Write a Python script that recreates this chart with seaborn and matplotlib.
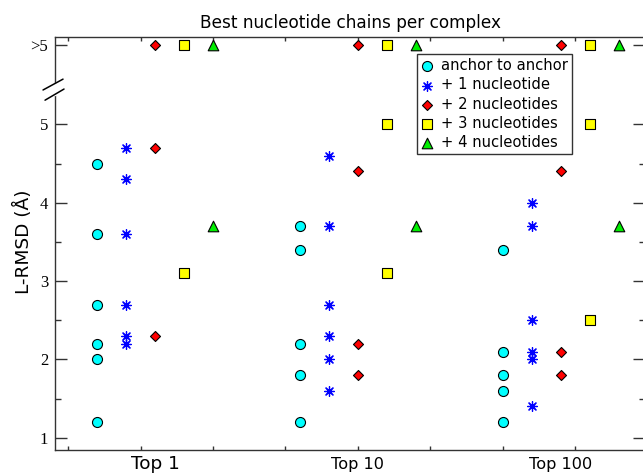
import numpy as np
import pandas as pd
import matplotlib
matplotlib.use("Agg")
import matplotlib.pyplot as plt
import seaborn as sns

# ---------------- data ----------------
GT5 = np.inf  # value reported as ">5"
groups = ["Top 1", "Top 10", "Top 100"]
series_labels = ["anchor to anchor", "+ 1 nucleotide", "+ 2 nucleotides",
                 "+ 3 nucleotides", "+ 4 nucleotides"]

anchor = [[4.5, 3.6, 2.7, 2.2, 2.0, 1.2],
          [3.7, 3.4, 2.2, 1.8, 1.2],
          [3.4, 2.1, 1.8, 1.6, 1.2]]
plus1 = [[4.7, 4.3, 3.6, 2.7, 2.3, 2.2],
         [4.6, 3.7, 2.7, 2.3, 2.0, 1.6],
         [4.0, 3.7, 2.5, 2.1, 2.0, 1.4]]
plus2 = [[GT5, 4.7, 2.3],
         [GT5, 4.4, 2.2, 1.8],
         [GT5, 4.4, 2.1, 1.8]]
plus3 = [[GT5, 3.1],
         [GT5, 5.0, 3.1],
         [GT5, 5.0, 2.5]]
plus4 = [[GT5, 3.7],
         [GT5, 3.7],
         [GT5, 3.7]]

ytick_vals = [1, 2, 3, 4, 5]
ytick_labels = ["1", "2", "3", "4", "5"]
over_label = ">5"

# ---------------- styling / layout ----------------
series_data = [anchor, plus1, plus2, plus3, plus4]
colors = ["#00FFFF", "#0000FF", "#FF0000", "#FFFF00", "#00EE00"]
markers = ["o", (8, 2, 0), "D", "s", "^"]
sizes = [52, 50, 26, 46, 58]
OVER_POS = 6.015          # where ">5" is drawn
GROUP_STEP = 7            # x spacing between groups
SERIES_STEP = 1           # x spacing between series within a group

sns.set_style("white")
plt.rcParams["font.family"] = ["DejaVu Sans"]
plt.rcParams["text.color"] = "black"
plt.rcParams["axes.labelcolor"] = "black"
plt.rcParams["xtick.color"] = "black"
plt.rcParams["ytick.color"] = "black"

rows = []
for si, (lab, data) in enumerate(zip(series_labels, series_data)):
    for gi, vals in enumerate(data):
        for v in vals:
            rows.append({"series": lab,
                         "x": gi * GROUP_STEP + si * SERIES_STEP,
                         "y": OVER_POS if np.isinf(v) else v})
df = pd.DataFrame(rows)

fig = plt.figure(figsize=(6.43, 4.73), dpi=100)
W, H = 643, 473
ax = fig.add_axes([55 / W, 23 / H, 590 / W, 413 / H])

for si, lab in enumerate(series_labels):
    sub = df[df["series"] == lab]
    if isinstance(markers[si], tuple):
        sns.scatterplot(data=sub, x="x", y="y", ax=ax, marker=markers[si],
                        s=sizes[si], color=colors[si], linewidth=0.9,
                        label=lab, zorder=3)
    else:
        sns.scatterplot(data=sub, x="x", y="y", ax=ax, marker=markers[si],
                        s=sizes[si], color=colors[si], edgecolor="black",
                        linewidth=0.8, label=lab, zorder=3)

ax.set_xlim(-1.45, 18.9)
ax.set_ylim(0.843, 6.117)

# y ticks
ax.set_yticks(ytick_vals + [OVER_POS])
ax.set_yticklabels(ytick_labels + [over_label])
ax.set_yticks([1.5, 2.5, 3.5, 4.5], minor=True)
ax.tick_params(axis="y", which="major", direction="in", length=8.6, width=1,
               right=True, left=True, labelsize=12, pad=5, color="#333333",
               labelcolor="black")
ax.tick_params(axis="y", which="minor", direction="in", length=4.3, width=1,
               right=True, left=True, color="#333333")
for lbl in ax.get_yticklabels():
    lbl.set_fontfamily("Liberation Serif")

# x ticks (unlabelled), group labels as text
ax.set_xticks(np.arange(-1, 19, 2.5))
ax.set_xticklabels([])
ax.tick_params(axis="x", which="major", direction="in", length=3, width=1,
               top=True, bottom=True, color="#333333")
label_sizes = [13.3, 11.6, 11.6]
for gi, g in enumerate(groups):
    ax.text(gi * GROUP_STEP + 2 * SERIES_STEP, -0.046, g,
            transform=ax.get_xaxis_transform(), ha="center", va="baseline",
            fontsize=label_sizes[gi], color="black")

ax.set_xlabel("")
ax.set_ylabel("L-RMSD (Å)", fontsize=13.3, color="black")
ax.yaxis.set_label_coords(-0.037, 0.504)

for sp in ax.spines.values():
    sp.set_color("#333333")
    sp.set_linewidth(1.0)

# axis break marks on left spine
ax.plot([0, 0], [0.861, 0.887], transform=ax.transAxes, color="white",
        lw=2.5, clip_on=False, zorder=5)
ax.plot([-0.0203, 0.0136], [0.8717, 0.898], transform=ax.transAxes,
        color="black", lw=1.1, clip_on=False, zorder=6)
ax.plot([-0.0169, 0.0153], [0.847, 0.874], transform=ax.transAxes,
        color="black", lw=1.1, clip_on=False, zorder=6)

leg = ax.legend(loc="upper left", bbox_to_anchor=(0.6136, 0.959),
                borderaxespad=0, frameon=True, fancybox=False,
                edgecolor="#333333", framealpha=1, fontsize=10.6,
                handlelength=0.8, handletextpad=0.5, labelspacing=0.28,
                borderpad=0.3)
leg.get_frame().set_linewidth(1.0)
for t in leg.get_texts():
    t.set_color("black")

fig.text(350 / W, 1 - 28 / H, "Best nucleotide chains per complex",
         ha="center", va="baseline", fontsize=12.2, color="black")

fig.savefig("out.png", dpi=100)
